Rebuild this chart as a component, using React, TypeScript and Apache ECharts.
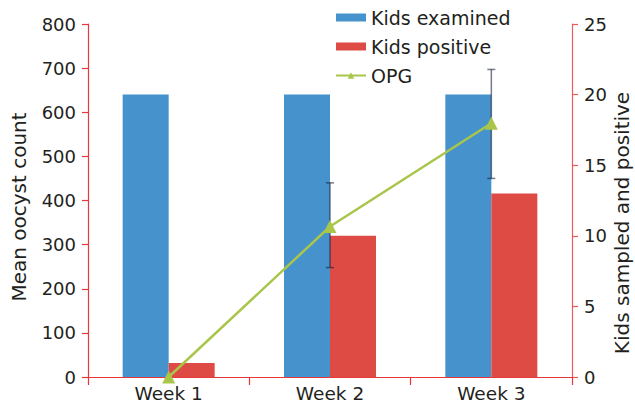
import React, { useEffect, useRef } from "react";
import * as echarts from "echarts";

const categories = ["Week 1", "Week 2", "Week 3"];
const kidsExamined = [20, 20, 20];
const kidsPositive = [1, 10, 13];
const opg = [0, 341, 575];
const opgLow = [0, 248, 450];
const opgHigh = [0, 440, 697];
const leftTicks = { min: 0, max: 800, interval: 100 };
const rightTicks = { min: 0, max: 25, interval: 5 };

const FONT = "DejaVu Sans";
const AXIS_RED = "#e8373b";
const TEXT = "#231f20";

export default function App() {
  const ref = useRef<HTMLDivElement>(null);
  useEffect(() => {
    document.body.style.margin = "0";
    const chart = echarts.init(ref.current!, null, { renderer: "svg" });
    const errData = categories.map((_, i) => [i, opgLow[i], opgHigh[i]]);
    chart.setOption({
      animation: false,
      backgroundColor: "#ffffff",
      textStyle: { fontFamily: FONT },
      grid: { left: 88, right: 63, top: 24, bottom: 28, containLabel: false },
      legend: {
        orient: "vertical",
        left: 335,
        top: 8,
        padding: 0,
        itemWidth: 30,
        itemHeight: 8,
        itemGap: 10,
        textStyle: { fontFamily: FONT, fontSize: 19, color: TEXT },
        data: [
          { name: "Kids examined", icon: "rect" },
          { name: "Kids positive", icon: "rect" },
          { name: "OPG" },
        ],
      },
      xAxis: {
        type: "category",
        data: categories,
        axisLine: { lineStyle: { color: AXIS_RED, width: 1.2 } },
        axisTick: { show: true, length: 8, lineStyle: { color: AXIS_RED, width: 1.2 } },
        axisLabel: { fontFamily: FONT, fontSize: 18.5, color: TEXT, margin: 7 },
        splitLine: { show: false },
      },
      yAxis: [
        {
          type: "value",
          min: leftTicks.min,
          max: leftTicks.max,
          interval: leftTicks.interval,
          axisLine: { show: true, lineStyle: { color: AXIS_RED, width: 1.2 } },
          axisTick: { show: true, length: 6, lineStyle: { color: AXIS_RED, width: 1.2 } },
          axisLabel: { fontFamily: FONT, fontSize: 18, color: TEXT, margin: 12 },
          splitLine: { show: false },
        },
        {
          type: "value",
          position: "right",
          min: rightTicks.min,
          max: rightTicks.max,
          interval: rightTicks.interval,
          axisLine: { show: true, lineStyle: { color: "#ee5a5c", width: 1.2 } },
          axisTick: { show: true, length: 6, lineStyle: { color: "#ee5a5c", width: 1.2 } },
          axisLabel: { fontFamily: FONT, fontSize: 18, color: TEXT, margin: 12 },
          splitLine: { show: false },
        },
      ],
      graphic: [
        {
          type: "text",
          x: 19,
          y: 207,
          rotation: Math.PI / 2,
          style: {
            text: "Mean oocyst count",
            fontFamily: FONT,
            fontSize: 20,
            fill: TEXT,
            align: "center",
            verticalAlign: "middle",
          },
        },
        {
          type: "text",
          x: 622,
          y: 223,
          rotation: Math.PI / 2,
          style: {
            text: "Kids sampled and positive",
            fontFamily: FONT,
            fontSize: 20,
            fill: TEXT,
            align: "center",
            verticalAlign: "middle",
          },
        },
      ],
      series: [
        {
          name: "Kids examined",
          type: "bar",
          yAxisIndex: 1,
          data: kidsExamined,
          barWidth: 46,
          barGap: "0%",
          itemStyle: { color: "#4592cc" },
          z: 2,
        },
        {
          name: "Kids positive",
          type: "bar",
          yAxisIndex: 1,
          data: kidsPositive,
          barWidth: 46,
          barGap: "0%",
          itemStyle: { color: "#de4b45" },
          z: 2,
        },
        {
          name: "errors",
          type: "custom",
          yAxisIndex: 0,
          data: errData,
          z: 3,
          silent: true,
          renderItem: (params: any, api: any) => {
            const x = api.value(0);
            const lo = api.value(1);
            const hi = api.value(2);
            if (lo === hi) return { type: "group", children: [] };
            const p1 = api.coord([x, lo]);
            const p2 = api.coord([x, hi]);
            const cap = 4;
            const style = { stroke: "rgba(25,35,60,0.6)", lineWidth: 1.5 };
            return {
              type: "group",
              children: [
                { type: "line", shape: { x1: p1[0], y1: p1[1], x2: p2[0], y2: p2[1] }, style },
                { type: "line", shape: { x1: p1[0] - cap, y1: p1[1], x2: p1[0] + cap, y2: p1[1] }, style },
                { type: "line", shape: { x1: p2[0] - cap, y1: p2[1], x2: p2[0] + cap, y2: p2[1] }, style },
              ],
            };
          },
        },
        {
          name: "OPG",
          type: "line",
          yAxisIndex: 0,
          data: opg,
          symbol: "triangle",
          symbolSize: 13,
          clip: false,
          lineStyle: { color: "#a9c64b", width: 2.5 },
          itemStyle: { color: "#a9c64b" },
          z: 4,
        },
      ],
    });
    return () => chart.dispose();
  }, []);
  return <div ref={ref} style={{ width: 635, height: 405 }} />;
}
